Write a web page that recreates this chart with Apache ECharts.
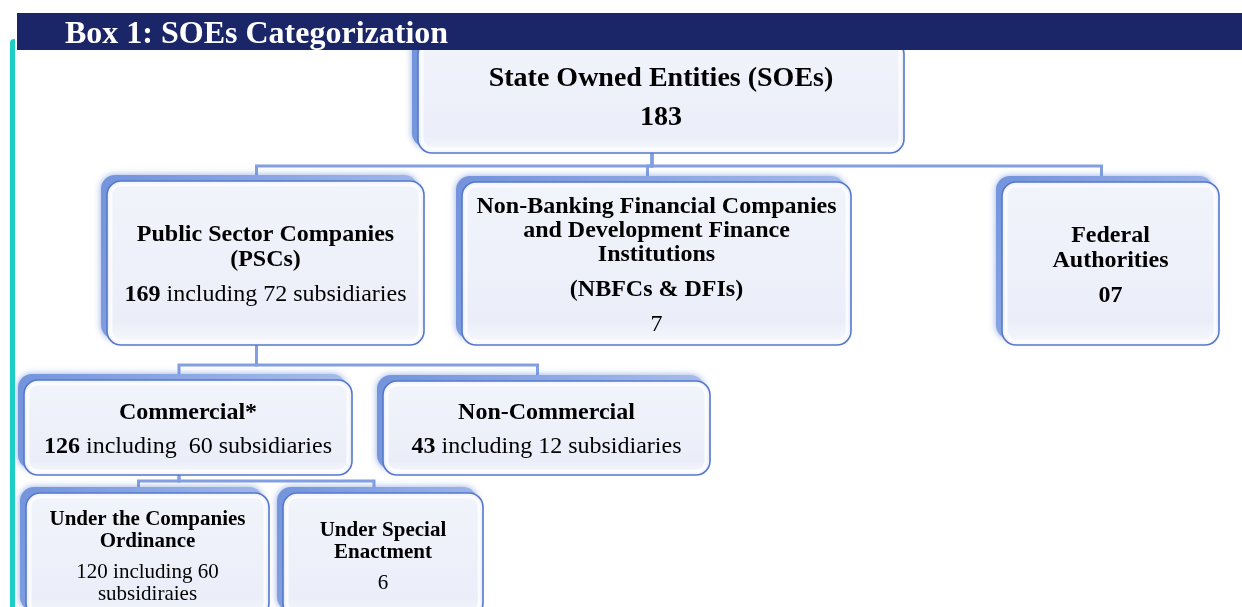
<!DOCTYPE html>
<html>
<head>
<meta charset="utf-8">
<script src="https://cdn.jsdelivr.net/npm/echarts@6/dist/echarts.min.js"></script>
<style>
  html, body { margin: 0; padding: 0; background: #fff; }
  #chart { width: 1242px; height: 607px; }
</style>
</head>
<body>
<div id="chart"></div>
<script>
// node texts and counts
var nodeTitles = [
    'State Owned Entities (SOEs)',
    'Public Sector Companies\n(PSCs)',
    'Non-Banking Financial Companies\nand Development Finance\nInstitutions',
    'Federal\nAuthorities',
    'Commercial*',
    'Non-Commercial',
    'Under the Companies\nOrdinance',
    'Under Special\nEnactment'
];
var nodeAbbrev = [null, null, '(NBFCs & DFIs)', null, null, null, null, null];
var nodeTotals = [183, 169, 7, 7, 126, 43, 120, 6];
var nodeSubsidiaries = [null, 72, null, null, 60, 12, 60, null];
var nodeParents = [-1, 0, 0, 0, 1, 1, 4, 4];
var countFormats = [
    '{t}',
    '{t} including {s} subsidiaries',
    '{t}',
    '{t}',
    '{t} including  {s} subsidiaries',
    '{t} including {s} subsidiaries',
    '{t} including {s}\nsubsidiraies',
    '{t}'
];

// box layout (pixel units of the hidden grid)
var layout = [
    {x: 418, y: 40,  w: 486, h: 113, fs: 28, lh: 26, gap: 39, bold: true, busY: 166},
    {x: 107, y: 181, w: 317, h: 164, fs: 24, lh: 25, gap: 35, bold: true, busY: 365},
    {x: 462, y: 182, w: 389, h: 163, fs: 24, lh: 24, gap: 35, bold: false},
    {x: 1002, y: 182, w: 217, h: 163, fs: 24, lh: 25, gap: 35, bold: true, pad: 2},
    {x: 24,  y: 380, w: 328, h: 95,  fs: 24, lh: 25, gap: 34, bold: true, busY: 481},
    {x: 383, y: 381, w: 327, h: 94,  fs: 24, lh: 25, gap: 34, bold: true},
    {x: 26,  y: 493, w: 243, h: 124, fs: 21, lh: 22, gap: 31, bold: false},
    {x: 283, y: 493, w: 200, h: 124, fs: 21, lh: 22, gap: 30, bold: false}
];

var serif = "'Liberation Serif', 'Times New Roman', serif";
var attachShift = -9;

function countText(i) {
    var b = layout[i];
    var t = String(nodeTotals[i]);
    if (b.pad) { while (t.length < b.pad) t = '0' + t; }
    if (b.bold) t = '{b|' + t + '}';
    var s = countFormats[i].replace('{t}', t);
    if (nodeSubsidiaries[i] != null) s = s.replace('{s}', nodeSubsidiaries[i]);
    return s;
}

// list of lines with offsets for one node
function nodeLines(i) {
    var b = layout[i];
    var paras = [];
    paras.push(nodeTitles[i].split('\n').map(function (l) { return '{b|' + l + '}'; }));
    if (nodeAbbrev[i]) paras.push(['{b|' + nodeAbbrev[i] + '}']);
    paras.push(countText(i).split('\n'));
    var lines = [], y = 0;
    paras.forEach(function (p, pi) {
        if (pi > 0) y += b.gap;
        p.forEach(function (l, li) {
            if (li > 0) y += b.lh;
            lines.push({text: l, dy: y});
        });
    });
    var mid = y / 2;
    lines.forEach(function (l) { l.dy -= mid - 2; });
    return lines;
}

var myChart = echarts.init(document.getElementById('chart'));

var nodeData = nodeTitles.map(function (n, i) { return [i]; });
var edgeData = [];
nodeParents.forEach(function (p, i) { if (p >= 0) edgeData.push([i, p]); });

var option = {
    animation: false,
    title: {
        text: 'Box 1: SOEs Categorization',
        left: 60,
        top: 14,
        z: 12,
        textStyle: {fontFamily: serif, fontWeight: 'bold', fontSize: 32, color: '#ffffff'}
    },
    graphic: [
        {type: 'rect', z: 10, shape: {x: 10, y: 39, width: 5, height: 580, r: [4, 0, 0, 0]}, style: {fill: '#1ccec6'}},
        {type: 'rect', z: 10, shape: {x: 17, y: 13, width: 1225, height: 37}, style: {fill: '#1b2669'}}
    ],
    grid: {left: 0, right: 0, top: 0, bottom: 0},
    xAxis: {type: 'value', min: 0, max: 1242, show: false},
    yAxis: {type: 'value', min: 0, max: 607, inverse: true, show: false},
    series: [
        {
            // connector lines
            type: 'custom',
            z: 1,
            clip: false,
            data: edgeData,
            renderItem: function (params, api) {
                var c = layout[api.value(0)], p = layout[api.value(1)];
                var cx = c.x + c.w / 2 + attachShift, px = p.x + p.w / 2 + attachShift;
                var pts = [
                    api.coord([cx, c.y - 6]),
                    api.coord([cx, p.busY]),
                    api.coord([px, p.busY]),
                    api.coord([px, p.y + p.h])
                ];
                return {
                    type: 'polyline',
                    shape: {points: pts},
                    style: {stroke: '#829fe2', lineWidth: 3, fill: null, lineJoin: 'miter'}
                };
            }
        },
        {
            // boxes
            type: 'custom',
            z: 2,
            clip: false,
            data: nodeData,
            renderItem: function (params, api) {
                var i = api.value(0), b = layout[i];
                var p = api.coord([b.x, b.y]);
                var sz = api.size([b.w, b.h]);
                var cx = p[0] + sz[0] / 2, cy = p[1] + sz[1] / 2;
                var children = [
                    {
                        type: 'rect',
                        shape: {x: p[0] - 6, y: p[1] - 6, width: sz[0], height: sz[1], r: 14},
                        style: {
                            fill: {type: 'linear', x: 0, y: 0, x2: 1, y2: 1, colorStops: [
                                {offset: 0, color: '#7394dc'}, {offset: 1, color: '#aabeec'}]},
                            shadowBlur: 7, shadowColor: 'rgba(100,135,215,0.7)'
                        }
                    },
                    {
                        type: 'rect',
                        shape: {x: p[0], y: p[1], width: sz[0], height: sz[1], r: 14},
                        style: {
                            fill: {type: 'linear', x: 0, y: 0, x2: 0, y2: 1, colorStops: [
                                {offset: 0, color: '#f2f4fb'}, {offset: 0.85, color: '#ebeef9'},
                                {offset: 1, color: '#f8f9fd'}]},
                            stroke: '#5678cc', lineWidth: 1.6
                        }
                    },
                    {
                        type: 'rect',
                        shape: {x: p[0] + 4, y: p[1] + 4, width: sz[0] - 8, height: sz[1] - 8, r: 10},
                        style: {fill: null, stroke: 'rgba(255,255,255,0.75)', lineWidth: 3}
                    }
                ];
                nodeLines(i).forEach(function (l) {
                    children.push({
                        type: 'text',
                        style: {
                            text: l.text,
                            x: cx, y: cy + l.dy,
                            align: 'center', verticalAlign: 'middle',
                            fontFamily: serif, fontSize: b.fs, fill: '#000',
                            rich: {b: {fontFamily: serif, fontSize: b.fs, fontWeight: 'bold', fill: '#000'}}
                        }
                    });
                });
                return {type: 'group', children: children};
            }
        }
    ]
};
myChart.setOption(option, true);
</script>
</body>
</html>
